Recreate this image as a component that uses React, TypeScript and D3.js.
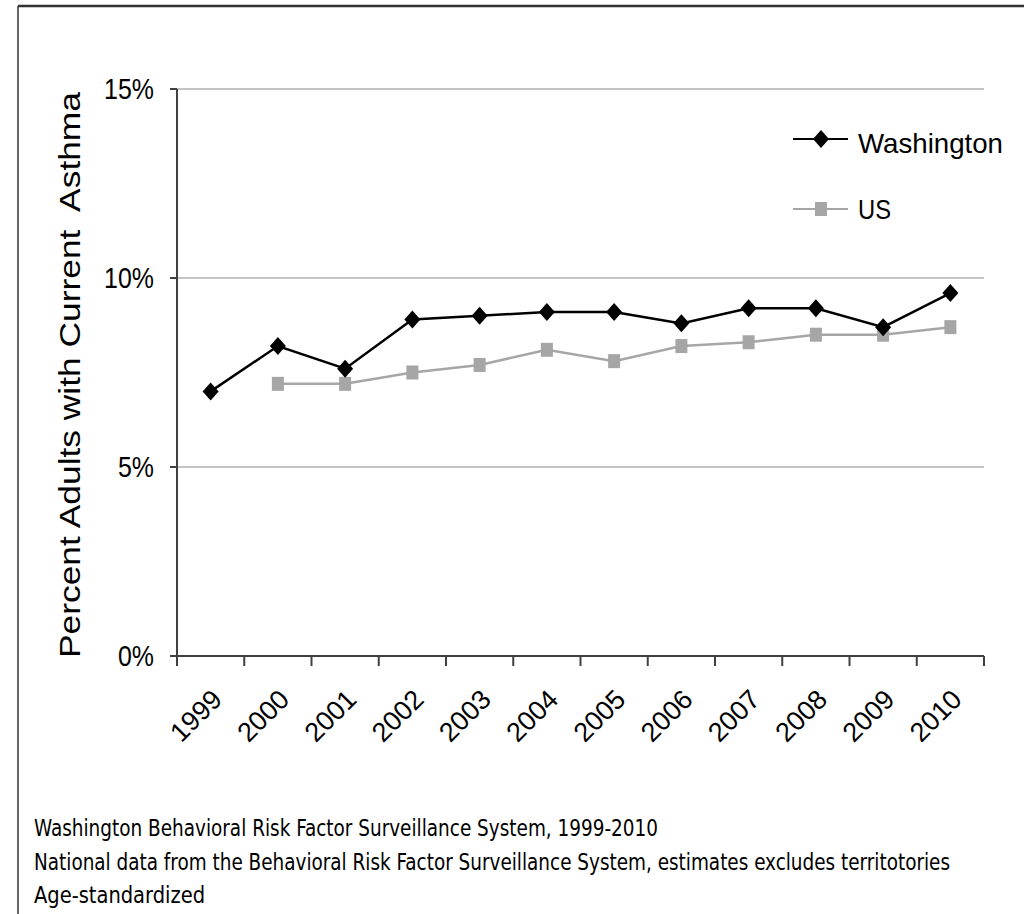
import React from 'react';
import * as d3 from 'd3';

const years = ['1999', '2000', '2001', '2002', '2003', '2004', '2005', '2006', '2007', '2008', '2009', '2010'];
const washington: (number | null)[] = [7.0, 8.2, 7.6, 8.9, 9.0, 9.1, 9.1, 8.8, 9.2, 9.2, 8.7, 9.6];
const us: (number | null)[] = [null, 7.2, 7.2, 7.5, 7.7, 8.1, 7.8, 8.2, 8.3, 8.5, 8.5, 8.7];
const yTicks = [0, 5, 10, 15];
const seriesNames = ['Washington', 'US'];
const yTitle = 'Percent Adults with Current\u00A0 Asthma';
const footnotes = [
  'Washington Behavioral Risk Factor Surveillance System, 1999-2010',
  'National data from the Behavioral Risk Factor Surveillance System, estimates excludes territotories',
  'Age-standardized',
];

const W = 1024;
const H = 914;
const plot = { left: 177, right: 984, top: 89, bottom: 656 };
const sansFont = '"Liberation Sans", Arial, sans-serif';
const narrowFont = '"Liberation Sans Narrow", "DejaVu Sans Condensed", "Open Sans", sans-serif';

export default function App() {
  const x = d3.scaleBand<string>().domain(years).range([plot.left, plot.right]).padding(0);
  const y = d3.scaleLinear().domain([0, 15]).range([plot.bottom, plot.top]);
  const cx = (yr: string) => (x(yr) as number) + x.bandwidth() / 2;

  const line = d3
    .line<[string, number | null]>()
    .defined((d) => d[1] !== null)
    .x((d) => cx(d[0]))
    .y((d) => y(d[1] as number));

  const waData = years.map((yr, i) => [yr, washington[i]] as [string, number | null]);
  const usData = years.map((yr, i) => [yr, us[i]] as [string, number | null]);

  const diamond = (px: number, py: number, hw = 8, hh = 9) =>
    `M${px},${py - hh}L${px + hw},${py}L${px},${py + hh}L${px - hw},${py}Z`;

  const boundaries = [...years.map((yr) => x(yr) as number), plot.right];

  const usColor = '#a6a6a6';
  const footY = [836, 870, 903];
  const footLen = [624, 916, 171];

  return (
    <svg
      width={W}
      height={H}
      style={{ position: 'absolute', left: 0, top: 0, background: '#fff' }}
      xmlns="http://www.w3.org/2000/svg"
    >
      <rect x={0} y={0} width={W} height={H} fill="#fff" />
      {/* frame */}
      <line x1={18} y1={6} x2={W} y2={6} stroke="#333" strokeWidth={2.5} />
      <line x1={18} y1={6} x2={18} y2={H} stroke="#333" strokeWidth={1.5} />

      {/* gridlines */}
      {yTicks.filter((t) => t > 0).map((t) => (
        <line key={'g' + t} x1={plot.left} x2={plot.right} y1={y(t)} y2={y(t)} stroke="#c4c4c4" strokeWidth={2} />
      ))}

      {/* y axis */}
      <line x1={plot.left} x2={plot.left} y1={y(15)} y2={y(0)} stroke="#404040" strokeWidth={2} />
      {yTicks.map((t) => (
        <g key={'yt' + t}>
          <line x1={plot.left - 7} x2={plot.left} y1={y(t)} y2={y(t)} stroke="#404040" strokeWidth={2} />
          <text
            transform={`translate(154, ${y(t) + 10}) scale(0.86,1)`}
            textAnchor="end"
            fontFamily={sansFont}
            fontSize={29}
            fill="#000"
          >
            {t + '%'}
          </text>
        </g>
      ))}

      {/* x axis */}
      <line x1={plot.left} x2={plot.right} y1={plot.bottom} y2={plot.bottom} stroke="#404040" strokeWidth={2} />
      {boundaries.map((b, i) => (
        <line key={'xt' + i} x1={b} x2={b} y1={plot.bottom} y2={plot.bottom + 10} stroke="#404040" strokeWidth={2} />
      ))}
      {years.map((yr) => (
        <text
          key={'xl' + yr}
          transform={`translate(${cx(yr) + 13}, 701) rotate(-45)`}
          textAnchor="end"
          fontFamily={sansFont}
          fontSize={27}
          fill="#000"
        >
          {yr}
        </text>
      ))}

      {/* y title */}
      <text
        transform={`translate(80, 375) rotate(-90)`}
        textAnchor="middle"
        fontFamily={sansFont}
        fontSize={30}
        textLength={566}
        lengthAdjust="spacingAndGlyphs"
        fill="#000"
      >
        {yTitle}
      </text>

      {/* series */}
      <path d={line(usData) || ''} fill="none" stroke={usColor} strokeWidth={2.5} />
      {usData.filter((d) => d[1] !== null).map((d) => (
        <rect key={'us' + d[0]} x={cx(d[0]) - 6} y={y(d[1] as number) - 7} width={12} height={14} fill={usColor} />
      ))}
      <path d={line(waData) || ''} fill="none" stroke="#000" strokeWidth={2.5} />
      {waData.filter((d) => d[1] !== null).map((d) => (
        <path key={'wa' + d[0]} d={diamond(cx(d[0]), y(d[1] as number))} fill="#000" />
      ))}

      {/* legend */}
      <line x1={793} x2={848} y1={139} y2={139} stroke="#000" strokeWidth={2} />
      <path d={diamond(821, 139, 8, 9)} fill="#000" />
      <text x={858} y={153} fontFamily={sansFont} fontSize={28} textLength={145} lengthAdjust="spacingAndGlyphs" fill="#000">
        {seriesNames[0]}
      </text>
      <line x1={793} x2={848} y1={209} y2={209} stroke={usColor} strokeWidth={2} />
      <rect x={815} y={202} width={12} height={14} fill={usColor} />
      <text x={858} y={219} fontFamily={sansFont} fontSize={28} textLength={33} lengthAdjust="spacingAndGlyphs" fill="#000">
        {seriesNames[1]}
      </text>

      {/* footnotes */}
      {footnotes.map((f, i) => (
        <text
          key={'fn' + i}
          transform={`translate(34, ${footY[i]}) scale(1, 1.2)`}
          fontFamily={narrowFont}
          fontSize={19}
          textLength={footLen[i]}
          lengthAdjust="spacingAndGlyphs"
          fill="#000"
        >
          {f}
        </text>
      ))}
    </svg>
  );
}
